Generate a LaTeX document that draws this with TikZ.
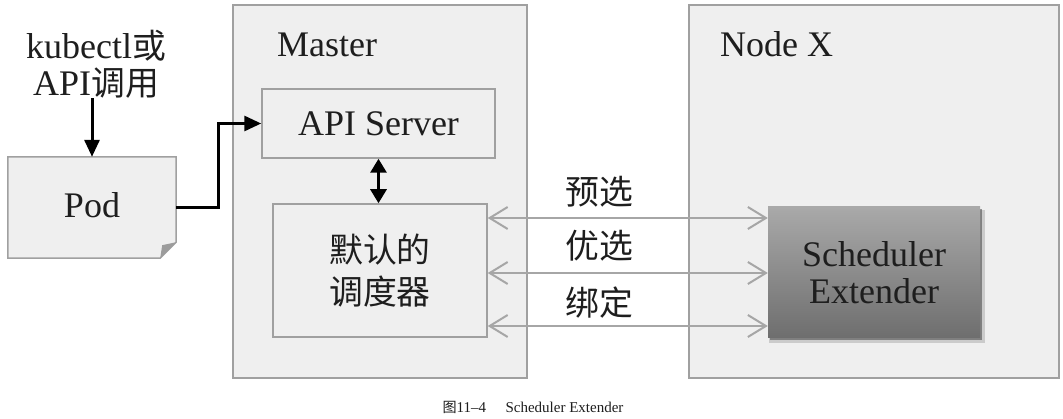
\documentclass[tikz,border=0pt]{standalone}
\usepackage{fontspec}
\setmainfont{Liberation Serif}
\newfontfamily\cjk[Scale=0.94]{Noto Sans CJK SC}
\usetikzlibrary{arrows.meta,calc,shadows,backgrounds}
\definecolor{boxfill}{HTML}{EFEFEF}
\definecolor{boxline}{HTML}{A0A0A0}
\definecolor{txt}{HTML}{1E1E1E}
\definecolor{arrgray}{HTML}{A6A6A6}
\definecolor{extTop}{HTML}{A9A9A9}
\definecolor{extBot}{HTML}{6E6E6E}
\definecolor{foldgray}{HTML}{9C9C9C}
\begin{document}
\begin{tikzpicture}[x=1pt,y=-1pt,
  big/.style={font=\fontsize{36}{37}\selectfont, text=txt},
  container/.style={draw=boxline, fill=boxfill, line width=1.5pt, inner sep=0pt},
  inbox/.style={draw=boxline, fill=boxfill, line width=1.5pt, inner sep=0pt, big, align=center},
  blk/.style={draw=black, line width=3pt, -{Triangle[length=17pt,width=15pt]}},
  blkboth/.style={draw=black, line width=3pt, {Triangle[length=14pt,width=16pt]}-{Triangle[length=14pt,width=16pt]}},
  garrow/.style={draw=arrgray, line width=2pt, {Straight Barb[length=18pt,width=22pt,line width=2pt]}-{Straight Barb[length=18pt,width=22pt,line width=2pt]}},
  lbl/.style={big, inner sep=0pt}
]
\useasboundingbox (0,0) rectangle (1063,419);

% containers
\node[container, minimum width=294pt, minimum height=373pt] (master) at (380,191.5) {};
\node[container, minimum width=370pt, minimum height=373pt] (nodex) at (874,191.5) {};
\node[lbl, anchor=base west] (mastertitle) at (277,57) {Master};
\node[lbl, anchor=base west] (nodextitle) at (720,57) {Node X};

% inner boxes
\node[inbox, minimum width=233pt, minimum height=69pt] (api) at (378.5,123.5) {API Server};
\node[inbox, minimum width=214pt, minimum height=133pt, font=\fontsize{36}{42}\selectfont] (sched) at (380,270.5) {\cjk 默认的\\\cjk 调度器};
\node[big, align=center, inner sep=0pt, minimum width=212pt, minimum height=131pt,
      top color=extTop, bottom color=extBot, draw=none,
      general shadow={shadow xshift=3pt, shadow yshift=-4pt, shadow scale=1.02, fill=black, opacity=0.15},
      general shadow={shadow xshift=1.5pt, shadow yshift=-2.5pt, fill=black!85, opacity=0.45}]
      (ext) at (874,272.5) {Scheduler\\Extender};

% command text
\node[big, align=center, inner sep=0pt] (cmd) at (96,64) {kubectl{\cjk 或}\\API{\cjk 调用}};

% pod
\node[big, minimum width=168pt, minimum height=101pt, inner sep=0pt] (pod) at (92,207.5) {\raisebox{5pt}{Pod}};
\begin{scope}[on background layer]
  \fill[white] (0,0) rectangle (1063,419);
  \draw[boxline, fill=boxfill, line width=1.5pt]
    (pod.north west) -- (pod.north east) -- ([yshift=16pt]pod.south east)
    -- ([xshift=-16pt]pod.south east) -- (pod.south west) -- cycle;
  \fill[foldgray] ([yshift=16pt]pod.south east) -- ([xshift=-16pt]pod.south east)
    -- ([xshift=-14pt,yshift=13pt]pod.south east) -- cycle;
\end{scope}

% black connectors
\draw[blk] (pod.north |- cmd.south) -- (pod.north);
\draw[blk] (pod.east) -- ++(42,0) |- (api.west);
\draw[blkboth] (api.south) -- (api.south |- sched.north);

% gray connectors
\draw[garrow] ([yshift=52.5pt]sched.east) -- ([yshift=52.5pt]sched.east -| ext.west);
\draw[garrow] ([yshift=-2.5pt]sched.east) -- ([yshift=-2.5pt]sched.east -| ext.west);
\draw[garrow] ([yshift=-55.5pt]sched.east) -- ([yshift=-55.5pt]sched.east -| ext.west);
\node[lbl] (l1) at (599,192) {\cjk 预选};
\node[lbl] (l2) at (599,246) {\cjk 优选};
\node[lbl] (l3) at (599,303) {\cjk 绑定};

% caption
\node[font=\fontsize{15}{17}\selectfont, text=txt, anchor=base] (cap) at (533,413) {{\cjk 图}11--4\hspace{1.3em}Scheduler Extender};
\end{tikzpicture}
\end{document}
